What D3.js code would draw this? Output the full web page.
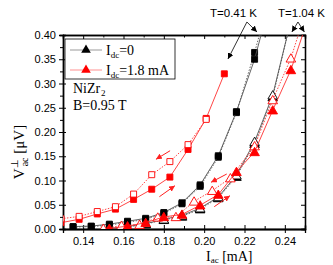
<!DOCTYPE html>
<html>
<head>
<meta charset="utf-8">
<script src="https://cdn.jsdelivr.net/npm/d3@7"></script>
<style>
  body { margin: 0; background: #fff; }
  .tick text { font-family: "Liberation Sans", Arial, sans-serif; font-size: 11px; fill: #000; }
  .serif { font-family: "Liberation Serif", "Times New Roman", serif; }
  .sans { font-family: "Liberation Sans", Arial, sans-serif; }
</style>
</head>
<body>
<div id="chart-area"></div>
<script>
// x grid of the measurements (I_ac in mA)
const iBlack = [0.135, 0.144, 0.153, 0.162, 0.171, 0.180, 0.189, 0.198, 0.207, 0.216, 0.225, 0.234];
const iRedSq = [0.129, 0.138, 0.147, 0.156, 0.165, 0.174, 0.183, 0.192, 0.201, 0.210];
const iTri = [0.153, 0.162, 0.171, 0.180, 0.189, 0.198, 0.207, 0.216, 0.225, 0.234, 0.243, 0.252];
const iTriOpen = [0.150, 0.159, 0.168, 0.177, 0.186, 0.195, 0.204, 0.213, 0.225, 0.234, 0.243, 0.252];

// T=0.41 K, Idc=0
const vBlackSqUp = [0.005, 0.006, 0.010, 0.016, 0.022, 0.034, 0.054, 0.091, 0.151, 0.242, 0.350, 0.49];
const vBlackSqDown = [0.004, 0.005, 0.008, 0.014, 0.020, 0.032, 0.052, 0.088, 0.148, 0.240, 0.364, 0.50];
// T=0.41 K, Idc=1.8 mA
const vRedSqUp = [0.013, 0.020, 0.031, 0.041, 0.061, 0.082, 0.107, 0.164, 0.228, 0.320];
const vRedSqDown = [0.021, 0.026, 0.036, 0.046, 0.072, 0.112, 0.139, 0.174, 0.226, null];
// T=1.04 K, Idc=0
const vBlackTriUp = [0.001, 0.004, 0.010, 0.019, 0.026, 0.041, 0.064, 0.108, 0.176, 0.272, 0.43, 0.60];
const vBlackTriDown = [0.001, 0.005, 0.011, 0.020, 0.028, 0.043, 0.066, 0.111, 0.180, 0.276, 0.43, 0.60];
// T=1.04 K, Idc=1.8 mA
const vRedTriUp = [0.001, 0.006, 0.013, 0.025, 0.030, 0.049, 0.071, 0.118, 0.159, 0.245, 0.328, 0.44];
const vRedTriDown = [0.001, 0.007, 0.009, 0.024, 0.025, 0.057, 0.079, 0.105, 0.171, 0.266, 0.352, 0.47];

const xTicks = [0.14, 0.16, 0.18, 0.20, 0.22, 0.24];
const yTicks = [0.00, 0.05, 0.10, 0.15, 0.20, 0.25, 0.30, 0.35, 0.40];

// sweep arrows [I0, V0, I1, V1]
const redArrows = [
  [0.1831, 0.1614, 0.1761, 0.1437],
  [0.1778, 0.0666, 0.1855, 0.0893],
  [0.2112, 0.1134, 0.2034, 0.0963],
  [0.2050, 0.0460, 0.2128, 0.0687]
];
const tempArrows = [
  [0.2212, 0.4268, 0.2118, 0.3505],
  [0.2212, 0.4268, 0.2262, 0.4062],
  [0.2465, 0.4268, 0.2435, 0.4062],
  [0.2465, 0.4268, 0.2497, 0.4062]
];

const margin = { left: 63, right: 28, top: 35, bottom: 36 };
const W = 333, H = 265;
const width = W - margin.left - margin.right;
const height = H - margin.top - margin.bottom;

const svg = d3.select('#chart-area').append('svg')
  .attr('width', W)
  .attr('height', H);

const defs = svg.append('defs');
defs.append('clipPath').attr('id', 'clip')
  .append('rect').attr('width', width).attr('height', height);
function marker(id, color) {
  defs.append('marker').attr('id', id)
    .attr('viewBox', '0 0 10 10').attr('refX', 10).attr('refY', 5)
    .attr('markerWidth', 6).attr('markerHeight', 6)
    .attr('markerUnits', 'userSpaceOnUse')
    .attr('orient', 'auto')
    .append('path').attr('d', 'M0,0 L10,5 L0,10 Z').attr('fill', color);
}
marker('ahRed', '#ff2020');
marker('ahBlack', '#000');

const chart = svg.append('g')
  .attr('transform', `translate(${margin.left},${margin.top})`);

const x = d3.scaleLinear().domain([0.13, 0.25]).range([0, width]);
const y = d3.scaleLinear().domain([0, 0.4]).range([height, 0]);

// axes
const xMinor = d3.range(0.13, 0.2501, 0.01).map(d => +d.toFixed(2)).filter(d => !xTicks.includes(d));
const yMinor = d3.range(0.025, 0.4, 0.05).map(d => +d.toFixed(3));

chart.append('g').attr('transform', `translate(0,${height})`)
  .call(d3.axisBottom(x).tickValues(xTicks).tickFormat(d3.format('.2f')).tickSize(4).tickPadding(4));
chart.append('g').attr('transform', `translate(0,${height})`)
  .call(d3.axisTop(x).tickValues(xTicks).tickFormat('').tickSize(4));
chart.append('g').attr('transform', `translate(0,${height})`)
  .call(d3.axisTop(x).tickValues(xMinor).tickFormat('').tickSize(3));
chart.append('g')
  .call(d3.axisBottom(x).tickValues(xTicks).tickFormat('').tickSize(4));
chart.append('g')
  .call(d3.axisBottom(x).tickValues(xMinor).tickFormat('').tickSize(2.5));

chart.append('g')
  .call(d3.axisLeft(y).tickValues(yTicks).tickFormat(d3.format('.2f')).tickSize(4).tickPadding(3));
chart.append('g')
  .call(d3.axisLeft(y).tickValues(yMinor).tickFormat('').tickSize(3));
chart.append('g')
  .call(d3.axisRight(y).tickValues(yTicks).tickFormat('').tickSize(3));
chart.append('g').attr('transform', `translate(${width},0)`)
  .call(d3.axisLeft(y).tickValues(yTicks).tickFormat('').tickSize(4));
chart.append('g').attr('transform', `translate(${width},0)`)
  .call(d3.axisLeft(y).tickValues(yMinor).tickFormat('').tickSize(2.5));

chart.selectAll('.domain').attr('stroke', '#000').attr('stroke-width', 1.3);
chart.selectAll('.tick line').attr('stroke', '#000');

// series
const plot = chart.append('g').attr('clip-path', 'url(#clip)');

const series = [
  { xs: iBlack, vs: vBlackSqDown, color: '#555', dash: '1.5,1.5', shape: 'sq', fill: true },
  { xs: iBlack, vs: vBlackSqUp, color: '#555', dash: null, shape: 'sq', fill: true },
  { xs: iTri, vs: vBlackTriUp, color: '#555', dash: '1.5,1.5', shape: 'tri', fill: true },
  { xs: iTri, vs: vBlackTriDown, color: '#555', dash: null, shape: 'tri', fill: false },
  { xs: iRedSq, vs: vRedSqUp, color: '#ff3030', dash: null, shape: 'sq', fill: true },
  { xs: iRedSq, vs: vRedSqDown, color: '#ff3030', dash: '1.5,1.5', shape: 'sq', fill: false },
  { xs: iTriOpen, vs: vRedTriDown, color: '#ff3030', dash: '1.5,1.5', shape: 'tri', fill: false },
  { xs: iTri, vs: vRedTriUp, color: '#ff3030', dash: null, shape: 'tri', fill: true }
];

const line = d3.line()
  .defined(d => d.v !== null)
  .x(d => x(d.i))
  .y(d => y(d.v));

const sqSym = d3.symbol().type(d3.symbolSquare).size(36);
const triSym = d3.symbol().type(d3.symbolTriangle).size(40);

series.forEach(s => {
  const pts = s.xs.map((iv, k) => ({ i: iv, v: s.vs[k] }));
  const mc = s.color === '#555' ? '#000' : '#ff0000';
  plot.append('path')
    .datum(pts)
    .attr('fill', 'none')
    .attr('stroke', s.color)
    .attr('stroke-width', 0.9)
    .attr('stroke-dasharray', s.dash)
    .attr('d', line);
  plot.selectAll(null)
    .data(pts.filter(d => d.v !== null))
    .enter().append('path')
    .attr('transform', d => `translate(${x(d.i)},${y(d.v) + (s.shape === 'tri' ? 1 : 0)})`)
    .attr('d', s.shape === 'sq' ? sqSym : triSym)
    .attr('fill', s.fill ? mc : '#fff')
    .attr('stroke', mc)
    .attr('stroke-width', 0.9);
});

// sweep arrows
chart.selectAll('.sweep')
  .data(redArrows)
  .enter().append('line')
  .attr('x1', d => x(d[0])).attr('y1', d => y(d[1]))
  .attr('x2', d => x(d[2])).attr('y2', d => y(d[3]))
  .attr('stroke', '#ff2020').attr('stroke-width', 1)
  .attr('marker-end', 'url(#ahRed)');

chart.selectAll('.temp')
  .data(tempArrows)
  .enter().append('line')
  .attr('x1', d => x(d[0])).attr('y1', d => y(d[1]))
  .attr('x2', d => x(d[2])).attr('y2', d => y(d[3]))
  .attr('stroke', '#000').attr('stroke-width', 0.8)
  .attr('marker-end', 'url(#ahBlack)');

svg.append('text').attr('class', 'sans')
  .attr('x', 210).attr('y', 17).attr('font-size', 11.5)
  .text('T=0.41 K');
svg.append('text').attr('class', 'sans')
  .attr('x', 278).attr('y', 17).attr('font-size', 11.5)
  .text('T=1.04 K');

// legend
const legend = chart.append('g').attr('transform', 'translate(2,4)');
legend.append('rect')
  .attr('width', 110).attr('height', 40)
  .attr('fill', '#fff').attr('stroke', '#000').attr('stroke-width', 0.8);
const legendItems = [
  { color: '#999', mc: '#000', sub: 'dc', rest: '=0' },
  { color: '#ff9090', mc: '#ff0000', sub: 'dc', rest: '=1.8 mA' }
];
legendItems.forEach((it, k) => {
  const g = legend.append('g').attr('transform', `translate(0,${11 + k * 20})`);
  g.append('line').attr('x1', 5).attr('x2', 37).attr('y1', 0).attr('y2', 0)
    .attr('stroke', it.color).attr('stroke-width', 1);
  g.append('path').attr('transform', 'translate(21,0)').attr('d', triSym).attr('fill', it.mc);
  const t = g.append('text').attr('class', 'serif').attr('x', 41).attr('y', 5).attr('font-size', 14);
  t.append('tspan').text('I');
  t.append('tspan').attr('font-size', 9).attr('dy', 3).text(it.sub);
  t.append('tspan').attr('dy', -3).text(it.rest);
});

chart.append('text').attr('class', 'serif')
  .attr('x', 10).attr('y', 58).attr('font-size', 14).text('NiZr');
chart.append('text').attr('class', 'serif')
  .attr('x', 38).attr('y', 61).attr('font-size', 9).text('2');
chart.append('text').attr('class', 'serif')
  .attr('x', 10).attr('y', 75).attr('font-size', 14).text('B=0.95 T');

// axis labels
const yl = svg.append('text').attr('class', 'serif')
  .attr('transform', 'translate(24,152) rotate(-90)')
  .attr('text-anchor', 'middle').attr('font-size', 15);
yl.append('tspan').text('V');
yl.append('tspan').attr('font-size', 10).attr('dy', -6).text('⊥');
yl.append('tspan').attr('font-size', 10).attr('dy', 10).attr('dx', -7).text('ac');
yl.append('tspan').attr('dy', -4).text(' [μV]');

const xl = svg.append('text').attr('class', 'serif')
  .attr('x', 206).attr('y', 261).attr('font-size', 14);
xl.append('tspan').text('I');
xl.append('tspan').attr('font-size', 9).attr('dy', 2).text('ac');
xl.append('tspan').attr('dy', -2).text(' [mA]');
</script>
</body>
</html>
